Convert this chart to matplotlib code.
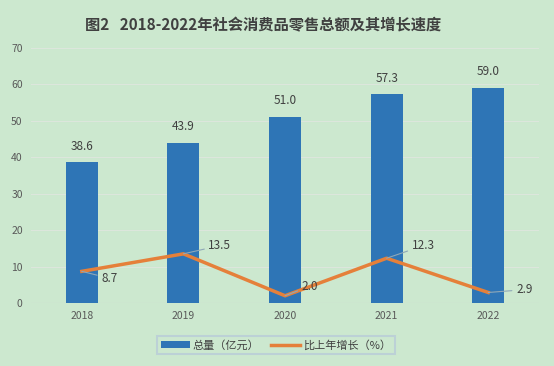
import matplotlib.pyplot as plt
import numpy as np

plt.rcParams['font.family'] = ['Noto Sans CJK SC', 'DejaVu Sans']

years = ["2018", "2019", "2020", "2021", "2022"]
total = [38.6, 43.9, 51.0, 57.3, 59.0]
growth = [8.7, 13.5, 2.0, 12.3, 2.9]
# label offsets (points) for the growth labels, with leader lines
growth_offsets = [(14, -5), (18, 6), (12, 7), (18, 9), (20, 2)]

BG = "#CCE8CF"
BAR = "#2E75B6"
LINE = "#E5803A"
TXT = "#404040"

fig = plt.figure(figsize=(5.54, 3.66), dpi=100, facecolor=BG)
ax = fig.add_axes([0.056, 0.172, 0.917, 0.697], facecolor=BG)

x = np.arange(len(years))
bars = ax.bar(x, total, width=0.315, color=BAR, zorder=2, label="总量（亿元）")
ln, = ax.plot(x, growth, color=LINE, lw=2.5, zorder=3, label="比上年增长（%）")

for xi, v in zip(x, total):
    ax.annotate(f"{v:.1f}", (xi, v), xytext=(0, 7), textcoords="offset points",
                ha="center", va="bottom", fontsize=8.5, color=TXT)

for xi, v, off in zip(x, growth, growth_offsets):
    ax.annotate(f"{v:.1f}", (xi, v), xytext=off, textcoords="offset points",
                ha="left", va="center", fontsize=8.5, color=TXT, zorder=4,
                arrowprops=dict(arrowstyle="-", color="#8FA8B8", lw=0.8,
                                shrinkA=1, shrinkB=0))

ax.set_xlim(-0.5, len(years) - 0.5)
ax.set_ylim(0, 70)
ax.set_yticks(range(0, 71, 10))
ax.set_xticks(x)
ax.set_xticklabels(years)
ax.tick_params(axis="both", length=0, labelsize=7.5, labelcolor="#595959")
ax.tick_params(axis="y", pad=6)
ax.tick_params(axis="x", pad=6)
ax.grid(axis="y", color="#DCE6DC", lw=0.8, zorder=0)
for s in ax.spines.values():
    s.set_visible(False)
ax.axhline(0, color="#D4DDD4", lw=0.8, zorder=1)

fig.text(0.475, 0.93, "图2   2018-2022年社会消费品零售总额及其增长速度",
         ha="center", va="center", fontsize=11, fontweight="bold", color=TXT)

leg = fig.legend(handles=[bars, ln], loc="center", bbox_to_anchor=(0.498, 0.057),
                 ncol=2, fontsize=8, frameon=True, handlelength=2.6,
                 columnspacing=1.0, handletextpad=0.3, borderpad=0.35,
                 fancybox=False)
leg.get_frame().set_facecolor(BG)
leg.get_frame().set_edgecolor("#B8CCD8")
leg.get_frame().set_linewidth(1.5)
for t in leg.get_texts():
    t.set_color(TXT)

fig.savefig("out.png", dpi=100, facecolor=BG)
